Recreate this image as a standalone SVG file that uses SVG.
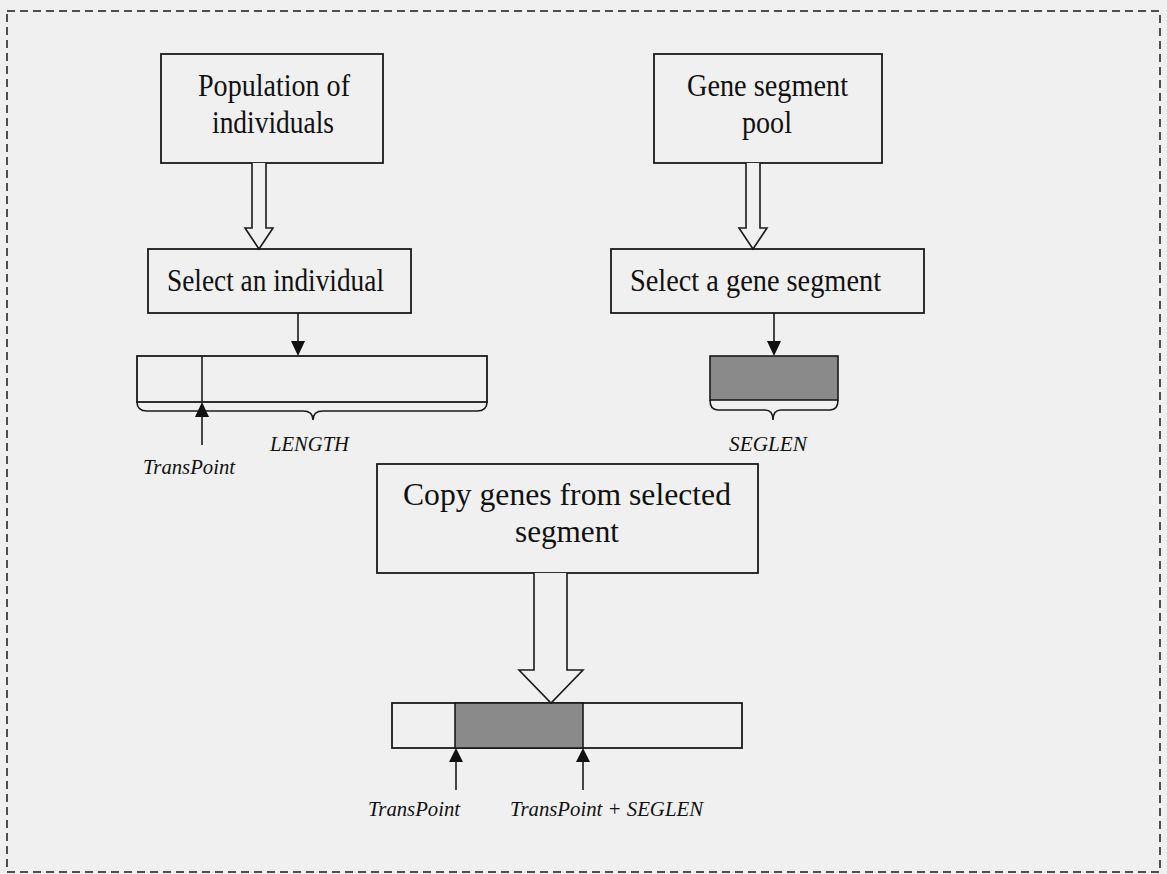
<svg xmlns="http://www.w3.org/2000/svg" width="1167" height="874" viewBox="0 0 1167 874">
<defs>
<style>
.box{fill:none;stroke:#1a1a1a;stroke-width:1.8}
.t{font-family:"Liberation Serif","Times New Roman",serif;font-size:32px;fill:#111}
.lbl{font-family:"Liberation Serif","Times New Roman",serif;font-size:20px;font-style:italic;fill:#111}
.ln{fill:none;stroke:#1a1a1a;stroke-width:1.6}
.blk{fill:#f0f0f0;stroke:#1a1a1a;stroke-width:1.6;stroke-linejoin:miter}
.gray{fill:#8a8a8a;stroke:#1a1a1a;stroke-width:1.6}
.head{fill:#111;stroke:none}
</style>
</defs>
<rect x="0" y="0" width="1167" height="874" fill="#f0f0f0"/>
<rect x="7" y="11" width="1153" height="861" fill="none" stroke="#1a1a1a" stroke-width="1.5" stroke-dasharray="8 5"/>

<g id="population">
<rect class="box" x="161" y="54" width="222" height="109"/>
<text class="t" x="274" y="96" text-anchor="middle" textLength="152" lengthAdjust="spacingAndGlyphs">Population of</text>
<text class="t" x="273" y="133" text-anchor="middle" textLength="122" lengthAdjust="spacingAndGlyphs">individuals</text>
</g>

<g id="genepool">
<rect class="box" x="654" y="54" width="228" height="109"/>
<text class="t" x="767.5" y="96" text-anchor="middle" textLength="161" lengthAdjust="spacingAndGlyphs">Gene segment</text>
<text class="t" x="767" y="133" text-anchor="middle" textLength="50" lengthAdjust="spacingAndGlyphs">pool</text>
</g>

<g id="selectind">
<rect class="box" x="148" y="249" width="263" height="64"/>
<text class="t" x="275.5" y="291" text-anchor="middle" textLength="217" lengthAdjust="spacingAndGlyphs">Select an individual</text>
</g>

<g id="selectseg">
<rect class="box" x="611" y="249" width="313" height="64"/>
<text class="t" x="755.5" y="291" text-anchor="middle" textLength="251" lengthAdjust="spacingAndGlyphs">Select a gene segment</text>
</g>

<g id="individual">
<rect class="box" x="137" y="356" width="350" height="46"/>
<line class="ln" x1="202" y1="356" x2="202" y2="402"/>
<path class="ln" d="M137,402 Q137,411 147,411 L303,411 Q313,411 313,420 Q313,411 323,411 L477,411 Q487,411 487,402"/>
<text class="lbl" x="270" y="451" textLength="79" lengthAdjust="spacingAndGlyphs">LENGTH</text>
<text class="lbl" x="143" y="474" textLength="92" lengthAdjust="spacingAndGlyphs">TransPoint</text>
</g>

<g id="segment">
<rect class="gray" x="710" y="356" width="128" height="44"/>
<path class="ln" d="M710,400 Q710,410 718,410 L765,410 Q773,410 773,420 Q773,410 781,410 L830,410 Q838,410 838,400"/>
<text class="lbl" x="729" y="451" textLength="78" lengthAdjust="spacingAndGlyphs">SEGLEN</text>
</g>

<g id="copy">
<rect class="box" x="377" y="464" width="381" height="109"/>
<text class="t" x="567" y="505" text-anchor="middle" textLength="328" lengthAdjust="spacingAndGlyphs">Copy genes from selected</text>
<text class="t" x="567" y="542" text-anchor="middle" textLength="104" lengthAdjust="spacingAndGlyphs">segment</text>
</g>

<g id="result">
<rect class="box" x="392" y="703" width="350" height="45"/>
<rect class="gray" x="455" y="703" width="128" height="45"/>
<text class="lbl" x="368" y="816" textLength="92" lengthAdjust="spacingAndGlyphs">TransPoint</text>
<text class="lbl" x="510" y="816" textLength="193" lengthAdjust="spacingAndGlyphs">TransPoint + SEGLEN</text>
</g>

<g id="connectors">
<path class="blk" d="M252,163 L252,228 L245,228 L259,249 L273,228 L266,228 L266,163"/>
<path class="blk" d="M746,163 L746,228 L739,228 L753,249 L767,228 L760,228 L760,163"/>
<path class="blk" d="M534,573 L534,670 L519,670 L551,703 L583,670 L567,670 L567,573"/>
<line class="ln" x1="298" y1="313" x2="298" y2="343"/>
<polygon class="head" points="291,341 305,341 298,356"/>
<line class="ln" x1="774" y1="313" x2="774" y2="343"/>
<polygon class="head" points="767,341 781,341 774,356"/>
<line class="ln" x1="202" y1="414" x2="202" y2="445"/>
<polygon class="head" points="195,417 209,417 202,402"/>
<line class="ln" x1="456" y1="760" x2="456" y2="790"/>
<polygon class="head" points="449,762 463,762 456,748"/>
<line class="ln" x1="583" y1="760" x2="583" y2="790"/>
<polygon class="head" points="576,762 590,762 583,748"/>
</g>
</svg>
